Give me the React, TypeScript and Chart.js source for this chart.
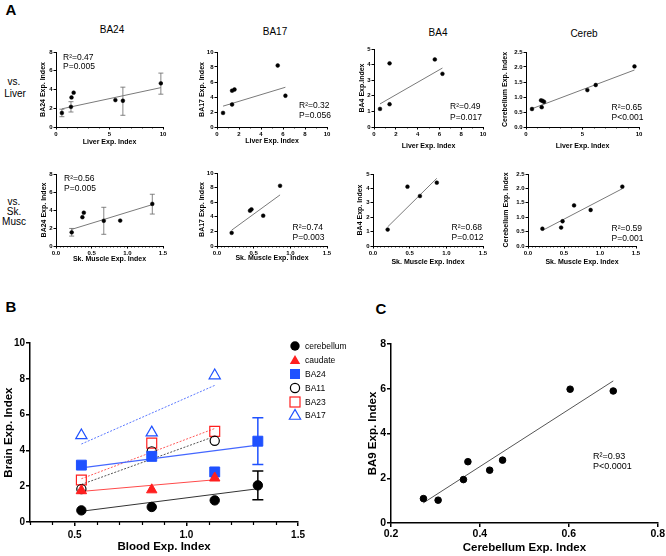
import React, { useEffect, useRef } from "react";
import { Chart, registerables } from "chart.js";
Chart.register(...registerables);

const FONT = "'Liberation Sans', Arial, Helvetica, sans-serif";
const BLUE = "#1f51ff";
const RED = "#ff1f1f";

// ---------- Panel A data ----------
// BA24 vs Liver
const liverX_ba24 = [0.55, 1.4, 1.45, 1.65, 5.55, 6.25, 9.8];
const ba24VsLiver = [1.5, 2.15, 3.15, 3.66, 2.87, 2.8, 4.66];
const ba24LiverErrX = [0.55, 1.4, 6.25, 9.8];
const ba24LiverErrLo = [1.1, 1.6, 1.25, 3.5];
const ba24LiverErrHi = [1.9, 2.7, 4.25, 5.75];
const ba24LiverFitX = [0.55, 9.8];
const ba24LiverFitY = [1.94, 4.2];
// BA17 vs Liver
const liverX_ba17 = [0.55, 1.37, 1.37, 1.59, 5.52, 6.22];
const ba17VsLiver = [1.88, 3.0, 4.84, 5.0, 8.2, 4.17];
const ba17LiverFitX = [0.55, 6.22];
const ba17LiverFitY = [2.78, 5.3];
// BA4 vs Liver
const liverX_ba4 = [0.55, 1.43, 1.43, 5.58, 6.28];
const ba4VsLiver = [1.16, 4.08, 1.46, 4.33, 3.41];
const ba4LiverFitX = [0.55, 6.28];
const ba4LiverFitY = [1.48, 3.78];
// Cerebellum vs Liver
const liverX_cereb = [0.53, 1.33, 1.39, 1.47, 1.6, 5.43, 6.17, 9.6];
const cerebVsLiver = [0.6, 0.89, 0.66, 0.87, 0.84, 1.23, 1.4, 2.02];
const cerebLiverFitX = [0.53, 9.6];
const cerebLiverFitY = [0.61, 1.9];
// BA24 vs Sk. Muscle
const muscX_ba24 = [0.22, 0.37, 0.39, 0.67, 0.9, 1.35];
const ba24VsMusc = [1.52, 3.2, 3.7, 2.8, 2.82, 4.68];
const ba24MuscErrX = [0.22, 0.67, 1.35];
const ba24MuscErrLo = [1.1, 1.3, 3.55];
const ba24MuscErrHi = [1.95, 4.3, 5.75];
const ba24MuscFitX = [0.22, 1.35];
const ba24MuscFitY = [1.85, 4.6];
// BA17 vs Sk. Muscle
const muscX_ba17 = [0.2, 0.45, 0.47, 0.63, 0.86];
const ba17VsMusc = [1.8, 4.84, 5.02, 4.15, 8.25];
const ba17MuscFitX = [0.2, 0.86];
const ba17MuscFitY = [2.17, 7.0];
// BA4 vs Sk. Muscle
const muscX_ba4 = [0.2, 0.47, 0.64, 0.87];
const ba4VsMusc = [1.14, 4.12, 3.47, 4.4];
const ba4MuscFitX = [0.2, 0.87];
const ba4MuscFitY = [1.33, 4.7];
// Cerebellum vs Sk. Muscle
const muscX_cereb = [0.2, 0.46, 0.48, 0.64, 0.87, 1.31];
const cerebVsMusc = [0.6, 0.64, 0.86, 1.41, 1.25, 2.06];
const cerebMuscFitX = [0.2, 1.31];
const cerebMuscFitY = [0.54, 1.99];

// tick values / labels
const ticks0_10by5 = [0, 5, 10];
const labels0_10by5 = ["0", "5", "10"];
const ticks0_10by2 = [0, 2, 4, 6, 8, 10];
const labels0_10by2 = ["0", "2", "4", "6", "8", "10"];
const ticks0_8by2 = [0, 2, 4, 6, 8];
const labels0_8by2 = ["0", "2", "4", "6", "8"];
const ticks0_5by1 = [0, 1, 2, 3, 4, 5];
const labels0_5by1 = ["0", "1", "2", "3", "4", "5"];
const ticks0_25 = [0, 0.5, 1, 1.5, 2, 2.5];
const labels0_25 = ["0.0", "0.5", "1.0", "1.5", "2.0", "2.5"];
const ticks0_15 = [0, 0.5, 1, 1.5];
const labels0_15 = ["0.0", "0.5", "1.0", "1.5"];

// ---------- Panel B data ----------
const bloodX = [0.53, 0.845, 1.127, 1.32];
const cerebellumB = [0.65, 0.84, 1.21, 2.05];
const caudateB = [1.75, 1.8, 2.46];
const ba24B = [3.18, 3.67, 2.8, 4.52];
const ba11B = [1.84, 3.95, 4.54];
const ba23B = [2.35, 4.41, 5.07];
const ba17B = [4.84, 5.0, 8.19];
const fitLongX = [0.53, 1.32];
const fitShortX = [0.53, 1.127];
const cerebellumFitB = [0.6, 1.86];
const caudateFitB = [1.71, 2.36];
const ba24FitB = [3.03, 4.3];
const ba11FitB = [2.1, 4.79];
const ba23FitB = [2.42, 5.23];
const ba17FitB = [4.36, 7.64];
const bErrX = [1.32, 1.32];
const bErrLo = [1.25, 3.22];
const bErrHi = [2.85, 5.83];
const bTicksX = [0.5, 1, 1.5];
const bLabelsX = ["0.5", "1.0", "1.5"];
const legendNames = ["cerebellum", "caudate", "BA24", "BA11", "BA23", "BA17"];

// ---------- Panel C data ----------
const cerebX_C = [0.273, 0.306, 0.363, 0.373, 0.422, 0.451, 0.603, 0.7];
const ba9C = [1.09, 1.02, 1.94, 2.74, 2.36, 2.81, 5.98, 5.9];
const cFitX = [0.273, 0.7];
const cFitY = [0.9, 6.35];
const cTicksX = [0.2, 0.4, 0.6, 0.8];
const cLabelsX = ["0.2", "0.4", "0.6", "0.8"];

type ErrBar = { x: number; lo: number; hi: number; color: string; cap: number; width: number };
interface Spec {
  L: number; T: number; R: number; B: number;
  ytX: number; xtY: number; padT: number; padR: number;
  tickSize: number; titleSize: number; axisW: number; tickLen: number; minorLen: number;
  tickPadX: number; tickPadY: number;
  xTitle: string; yTitle: string;
  xMin: number; xMax: number; yMin: number; yMax: number;
  xTicks: number[]; xLabels: string[]; yTicks: number[]; yLabels: string[];
  xMinor?: number; yMinor?: number;
  datasets: any[];
  errors?: ErrBar[];
}

const pts = (xs: number[], ys: number[]) => ys.map((y, i) => ({ x: xs[i], y }));
const fitLine = (xs: number[], ys: number[], color: string, width = 1, dash: number[] = []) => ({
  data: pts(xs, ys), showLine: true, pointRadius: 0, borderColor: color, backgroundColor: color,
  borderWidth: width, borderDash: dash, order: 2,
});
const dots = (xs: number[], ys: number[], style: string, r: number, fillC: string, lineC: string, bw = 1) => ({
  data: pts(xs, ys), showLine: false, pointStyle: style, pointRadius: r, pointHoverRadius: r,
  backgroundColor: fillC, borderColor: lineC, borderWidth: bw, order: 1,
});
const errs = (xs: number[], lo: number[], hi: number[], color: string | string[], cap: number, width: number): ErrBar[] =>
  xs.map((x, i) => ({ x, lo: lo[i], hi: hi[i], color: Array.isArray(color) ? color[i] : color, cap, width }));

function PlotCanvas({ spec }: { spec: Spec }) {
  const ref = useRef<HTMLCanvasElement>(null);
  const lh = spec.titleSize * 1.2;
  const left = Math.round(spec.ytX - lh / 2);
  const top = spec.T - spec.padT;
  const right = spec.R + spec.padR;
  const bottom = Math.round(spec.xtY + lh / 2);
  const w = right - left;
  const h = bottom - top;
  useEffect(() => {
    const c = ref.current!;
    const tickFont = { family: FONT, size: spec.tickSize, weight: "bold" as const };
    const titleFont = { family: FONT, size: spec.titleSize, weight: "bold" as const };
    const extras = {
      id: "extras",
      beforeDatasetsDraw(chart: any) {
        const ctx = chart.ctx;
        const xs = chart.scales.x, ys = chart.scales.y;
        (spec.errors || []).forEach((e) => {
          const px = xs.getPixelForValue(e.x);
          const p1 = ys.getPixelForValue(e.lo);
          const p2 = ys.getPixelForValue(e.hi);
          ctx.save();
          ctx.strokeStyle = e.color;
          ctx.lineWidth = e.width;
          ctx.beginPath();
          ctx.moveTo(px, p1); ctx.lineTo(px, p2);
          ctx.moveTo(px - e.cap, p1); ctx.lineTo(px + e.cap, p1);
          ctx.moveTo(px - e.cap, p2); ctx.lineTo(px + e.cap, p2);
          ctx.stroke();
          ctx.restore();
        });
      },
      afterDraw(chart: any) {
        const ctx = chart.ctx;
        const xs = chart.scales.x, ys = chart.scales.y;
        ctx.save();
        ctx.strokeStyle = "#000";
        ctx.lineWidth = spec.axisW * 0.8;
        ctx.beginPath();
        if (spec.xMinor) {
          const n = Math.round((spec.xMax - spec.xMin) / spec.xMinor);
          for (let k = 0; k <= n; k++) {
            const v = spec.xMin + k * spec.xMinor;
            if (spec.xTicks.some((t) => Math.abs(t - v) < 1e-6)) continue;
            const px = Math.round(xs.getPixelForValue(v)) + 0.5;
            ctx.moveTo(px, xs.top);
            ctx.lineTo(px, xs.top + spec.minorLen);
          }
        }
        if (spec.yMinor) {
          const n = Math.round((spec.yMax - spec.yMin) / spec.yMinor);
          for (let k = 0; k <= n; k++) {
            const v = spec.yMin + k * spec.yMinor;
            if (spec.yTicks.some((t) => Math.abs(t - v) < 1e-6)) continue;
            const py = Math.round(ys.getPixelForValue(v)) + 0.5;
            ctx.moveTo(ys.right - spec.minorLen, py);
            ctx.lineTo(ys.right, py);
          }
        }
        ctx.stroke();
        ctx.restore();
      },
    };
    const axisCommon = (isX: boolean) => ({
      type: "linear" as const,
      position: isX ? ("bottom" as const) : ("left" as const),
      min: isX ? spec.xMin : spec.yMin,
      max: isX ? spec.xMax : spec.yMax,
      afterBuildTicks: (s: any) => {
        s.ticks = (isX ? spec.xTicks : spec.yTicks).map((v) => ({ value: v }));
      },
      afterFit: (s: any) => {
        if (isX) s.height = bottom - spec.B;
        else s.width = spec.L - left;
      },
      ticks: {
        font: tickFont, color: "#000", padding: isX ? spec.tickPadX : spec.tickPadY,
        maxRotation: 0, minRotation: 0, autoSkip: false,
        callback: (_v: any, i: number) => (isX ? spec.xLabels : spec.yLabels)[i] ?? "",
      },
      grid: {
        display: true, drawOnChartArea: false, drawTicks: true, tickLength: spec.tickLen,
        color: "#000", lineWidth: spec.axisW,
      },
      border: { display: true, color: "#000", width: spec.axisW },
      title: {
        display: true, text: isX ? spec.xTitle : spec.yTitle, font: titleFont, color: "#000", padding: 0,
      },
    });
    const chart = new Chart(c, {
      type: "scatter",
      data: { datasets: spec.datasets },
      options: {
        animation: false,
        responsive: false,
        maintainAspectRatio: false,
        devicePixelRatio: 1,
        events: [],
        layout: { padding: { top: spec.padT, right: spec.padR, left: 0, bottom: 0 } },
        plugins: { legend: { display: false }, tooltip: { enabled: false } },
        scales: { x: axisCommon(true), y: axisCommon(false) } as any,
      },
      plugins: [extras],
    } as any);
    return () => chart.destroy();
  }, []);
  return (
    <canvas
      ref={ref}
      width={w}
      height={h}
      style={{ position: "absolute", left, top, width: w, height: h, display: "block" }}
    />
  );
}

const aBase = {
  padT: 6, padR: 6, tickSize: 6, titleSize: 7, axisW: 1, tickLen: 2.5, minorLen: 1.5,
  tickPadX: 1, tickPadY: 1,
};
const grey = "#7a7a7a";
const aDots = (xs: number[], ys: number[]) => dots(xs, ys, "circle", 1.9, "#000", "#000", 0.5);
const aFit = (xs: number[], ys: number[]) => fitLine(xs, ys, grey, 1);

const specsA: Spec[] = [
  {
    ...aBase, L: 56, T: 52, R: 163, B: 127, ytX: 43, xtY: 142,
    xTitle: "Liver Exp. Index", yTitle: "BA24 Exp. Index",
    xMin: 0, xMax: 10, yMin: 0, yMax: 8, xTicks: ticks0_10by5, xLabels: labels0_10by5,
    yTicks: ticks0_8by2, yLabels: labels0_8by2, xMinor: 1,
    datasets: [aDots(liverX_ba24, ba24VsLiver), aFit(ba24LiverFitX, ba24LiverFitY)],
    errors: errs(ba24LiverErrX, ba24LiverErrLo, ba24LiverErrHi, "#666", 2.5, 0.8),
  },
  {
    ...aBase, L: 217, T: 52, R: 327, B: 127, ytX: 202, xtY: 141,
    xTitle: "Liver Exp. Index", yTitle: "BA17 Exp. Index",
    xMin: 0, xMax: 10, yMin: 0, yMax: 10, xTicks: ticks0_10by2, xLabels: labels0_10by2,
    yTicks: ticks0_10by2, yLabels: labels0_10by2, xMinor: 1,
    datasets: [aDots(liverX_ba17, ba17VsLiver), aFit(ba17LiverFitX, ba17LiverFitY)],
  },
  {
    ...aBase, L: 374, T: 49, R: 483, B: 127, ytX: 362, xtY: 146,
    xTitle: "Liver Exp. Index", yTitle: "BA4 Exp.Index",
    xMin: 0, xMax: 10, yMin: 0, yMax: 5, xTicks: ticks0_10by2, xLabels: labels0_10by2,
    yTicks: ticks0_5by1, yLabels: labels0_5by1, xMinor: 1,
    datasets: [aDots(liverX_ba4, ba4VsLiver), aFit(ba4LiverFitX, ba4LiverFitY)],
  },
  {
    ...aBase, L: 526, T: 52, R: 639, B: 127, ytX: 505, xtY: 146,
    xTitle: "Liver Exp. Index", yTitle: "Cerebellum Exp. Index",
    xMin: 0, xMax: 10, yMin: 0, yMax: 2.5, xTicks: ticks0_10by5, xLabels: labels0_10by5,
    yTicks: ticks0_25, yLabels: labels0_25, xMinor: 1,
    datasets: [aDots(liverX_cereb, cerebVsLiver), aFit(cerebLiverFitX, cerebLiverFitY)],
  },
  {
    ...aBase, L: 56, T: 174, R: 163, B: 246, ytX: 44, xtY: 259,
    xTitle: "Sk. Muscle Exp. Index", yTitle: "BA24 Exp. Index",
    xMin: 0, xMax: 1.5, yMin: 0, yMax: 8, xTicks: ticks0_15, xLabels: labels0_15,
    yTicks: ticks0_8by2, yLabels: labels0_8by2, xMinor: 0.05,
    datasets: [aDots(muscX_ba24, ba24VsMusc), aFit(ba24MuscFitX, ba24MuscFitY)],
    errors: errs(ba24MuscErrX, ba24MuscErrLo, ba24MuscErrHi, "#666", 2.5, 0.8),
  },
  {
    ...aBase, L: 217, T: 173, R: 327, B: 246, ytX: 202, xtY: 258,
    xTitle: "Sk. Muscle Exp. Index", yTitle: "BA17 Exp. Index",
    xMin: 0, xMax: 1.5, yMin: 0, yMax: 10, xTicks: ticks0_15, xLabels: labels0_15,
    yTicks: ticks0_10by2, yLabels: labels0_10by2, xMinor: 0.05,
    datasets: [aDots(muscX_ba17, ba17VsMusc), aFit(ba17MuscFitX, ba17MuscFitY)],
  },
  {
    ...aBase, L: 373, T: 174, R: 483, B: 246, ytX: 360, xtY: 262,
    xTitle: "Sk. Muscle Exp. Index", yTitle: "BA4 Exp. Index",
    xMin: 0, xMax: 1.5, yMin: 0, yMax: 5, xTicks: ticks0_15, xLabels: labels0_15,
    yTicks: ticks0_5by1, yLabels: labels0_5by1, xMinor: 0.05,
    datasets: [aDots(muscX_ba4, ba4VsMusc), aFit(ba4MuscFitX, ba4MuscFitY)],
  },
  {
    ...aBase, L: 528, T: 174, R: 636, B: 246, ytX: 506, xtY: 262,
    xTitle: "Sk. Muscle Exp. Index", yTitle: "Cerebellum Exp. Index",
    xMin: 0, xMax: 1.5, yMin: 0, yMax: 2.5, xTicks: ticks0_15, xLabels: labels0_15,
    yTicks: ticks0_25, yLabels: labels0_25, xMinor: 0.05,
    datasets: [aDots(muscX_cereb, cerebVsMusc), aFit(cerebMuscFitX, cerebMuscFitY)],
  },
];

const sliceX = (n: number) => bloodX.slice(0, n);
const specB: Spec = {
  L: 30, T: 343, R: 300, B: 522, ytX: 9.3, xtY: 547, padT: 8, padR: 8,
  tickSize: 10, titleSize: 11.5, axisW: 1.5, tickLen: 4, minorLen: 3, tickPadX: 3, tickPadY: 1,
  xTitle: "Blood Exp. Index", yTitle: "Brain Exp. Index",
  xMin: 0.3, xMax: 1.5, yMin: 0, yMax: 10, xTicks: bTicksX, xLabels: bLabelsX,
  yTicks: ticks0_10by2, yLabels: labels0_10by2, xMinor: 0.1,
  datasets: [
    dots(sliceX(4), cerebellumB, "circle", 4.7, "#000", "#000", 1),
    dots(sliceX(3), caudateB, "triangle", 6, RED, RED, 1),
    dots(sliceX(4), ba24B, "rect", 7, BLUE, BLUE, 1),
    dots(sliceX(3), ba11B, "circle", 4.6, "rgba(0,0,0,0)", "#000", 1.2),
    dots(sliceX(3), ba23B, "rect", 7, "rgba(0,0,0,0)", RED, 1.2),
    dots(sliceX(3), ba17B, "triangle", 6.5, "rgba(0,0,0,0)", BLUE, 1.2),
    fitLine(fitLongX, cerebellumFitB, "#333", 1),
    fitLine(fitShortX, caudateFitB, "#ff4a4a", 1),
    fitLine(fitLongX, ba24FitB, "#4467ff", 1.2),
    fitLine(fitShortX, ba11FitB, "#555", 1, [2, 1.5]),
    fitLine(fitShortX, ba23FitB, "#ff5a5a", 1, [2, 1.5]),
    fitLine(fitShortX, ba17FitB, "#5a78ff", 1, [2, 1.5]),
  ],
  errors: errs(bErrX, bErrLo, bErrHi, ["#000", BLUE], 5.5, 1.5),
};

const specC: Spec = {
  L: 391, T: 344, R: 658, B: 523, ytX: 373, xtY: 548, padT: 8, padR: 8,
  tickSize: 10.5, titleSize: 11.5, axisW: 1.5, tickLen: 4, minorLen: 0, tickPadX: 1, tickPadY: 1,
  xTitle: "Cerebellum Exp. Index", yTitle: "BA9 Exp. Index",
  xMin: 0.2, xMax: 0.8, yMin: 0, yMax: 8, xTicks: cTicksX, xLabels: cLabelsX,
  yTicks: ticks0_8by2, yLabels: labels0_8by2,
  datasets: [
    dots(cerebX_C, ba9C, "circle", 3.3, "#000", "#000", 1),
    fitLine(cFitX, cFitY, "#555", 1),
  ],
};

function Txt(props: { x: number; y: number; size: number; bold?: boolean; left?: boolean; children: React.ReactNode }) {
  return (
    <div
      style={{
        position: "absolute", left: props.x, top: props.y, whiteSpace: "nowrap", lineHeight: 1,
        transform: props.left ? "translate(0,-50%)" : "translate(-50%,-50%)",
        fontSize: props.size, fontWeight: props.bold ? "bold" : "normal", color: "#000",
      }}
    >
      {props.children}
    </div>
  );
}

function LegendMarker({ i }: { i: number }) {
  const s = 14, c = 7;
  let shape: React.ReactNode = null;
  const tri = (r: number) =>
    `${c},${c - r} ${c - 0.866 * r},${c + r / 2} ${c + 0.866 * r},${c + r / 2}`;
  if (i === 0) shape = <circle cx={c} cy={c} r={4.7} fill="#000" />;
  if (i === 1) shape = <polygon points={tri(6)} fill={RED} transform="translate(0,1)" />;
  if (i === 2) shape = <rect x={c - 5} y={c - 5} width={10} height={10} fill={BLUE} />;
  if (i === 3) shape = <circle cx={c} cy={c} r={4.6} fill="none" stroke="#000" strokeWidth={1.2} />;
  if (i === 4) shape = <rect x={c - 5} y={c - 5} width={10} height={10} fill="none" stroke={RED} strokeWidth={1.2} />;
  if (i === 5) shape = <polygon points={tri(6.5)} fill="none" stroke={BLUE} strokeWidth={1.2} transform="translate(0,1)" />;
  return (
    <svg width={s} height={s} style={{ position: "absolute", left: 295 - c, top: -c }}>
      {shape}
    </svg>
  );
}

const legendY = [345.7, 360, 373.7, 387.7, 401.7, 415];

export default function App() {
  return (
    <div
      style={{
        position: "absolute", left: 0, top: 0, width: 666, height: 556, background: "#fff",
        fontFamily: FONT, overflow: "hidden",
      }}
    >
      {specsA.map((s, i) => (
        <PlotCanvas key={i} spec={s} />
      ))}
      <PlotCanvas spec={specB} />
      <PlotCanvas spec={specC} />

      <Txt x={11} y={9} size={15} bold>A</Txt>
      <Txt x={11} y={306} size={15} bold>B</Txt>
      <Txt x={381} y={308} size={15} bold>C</Txt>

      <Txt x={112} y={30} size={10}>BA24</Txt>
      <Txt x={275} y={32} size={10}>BA17</Txt>
      <Txt x={438} y={33} size={10}>BA4</Txt>
      <Txt x={584} y={34} size={10}>Cereb</Txt>

      <Txt x={14} y={82} size={10}>vs.</Txt>
      <Txt x={15} y={94} size={10}>Liver</Txt>
      <Txt x={14} y={202} size={10}>vs.</Txt>
      <Txt x={14} y={212} size={10}>Sk.</Txt>
      <Txt x={14} y={222} size={10}>Musc</Txt>

      <Txt x={63} y={57} size={8.5} left>R²=0.47</Txt>
      <Txt x={63} y={66} size={8.5} left>P=0.005</Txt>
      <Txt x={299} y={105} size={8.5} left>R²=0.32</Txt>
      <Txt x={299} y={115} size={8.5} left>P=0.056</Txt>
      <Txt x={450} y={106} size={8.5} left>R²=0.49</Txt>
      <Txt x={450} y={116.5} size={8.5} left>P=0.017</Txt>
      <Txt x={611.5} y={107} size={8.5} left>R²=0.65</Txt>
      <Txt x={611.5} y={117} size={8.5} left>P&lt;0.001</Txt>
      <Txt x={64} y={178} size={8.5} left>R²=0.56</Txt>
      <Txt x={64} y={188} size={8.5} left>P=0.005</Txt>
      <Txt x={292.5} y={226.5} size={8.5} left>R²=0.74</Txt>
      <Txt x={292.5} y={236.5} size={8.5} left>P=0.003</Txt>
      <Txt x={451.5} y={226.5} size={8.5} left>R²=0.68</Txt>
      <Txt x={451.5} y={237} size={8.5} left>P=0.012</Txt>
      <Txt x={611.5} y={228} size={8.5} left>R²=0.59</Txt>
      <Txt x={611.5} y={238} size={8.5} left>P=0.001</Txt>

      <Txt x={593} y={455.5} size={9} left>R²=0.93</Txt>
      <Txt x={593} y={465.5} size={9} left>P&lt;0.0001</Txt>

      {legendNames.map((n, i) => (
        <div key={n} style={{ position: "absolute", left: 0, top: legendY[i], width: 0, height: 0 }}>
          <LegendMarker i={i} />
          <div
            style={{
              position: "absolute", left: 305, top: 0, transform: "translate(0,-50%)",
              fontSize: 8.5, lineHeight: 1, whiteSpace: "nowrap", color: "#000",
            }}
          >
            {n}
          </div>
        </div>
      ))}
    </div>
  );
}
